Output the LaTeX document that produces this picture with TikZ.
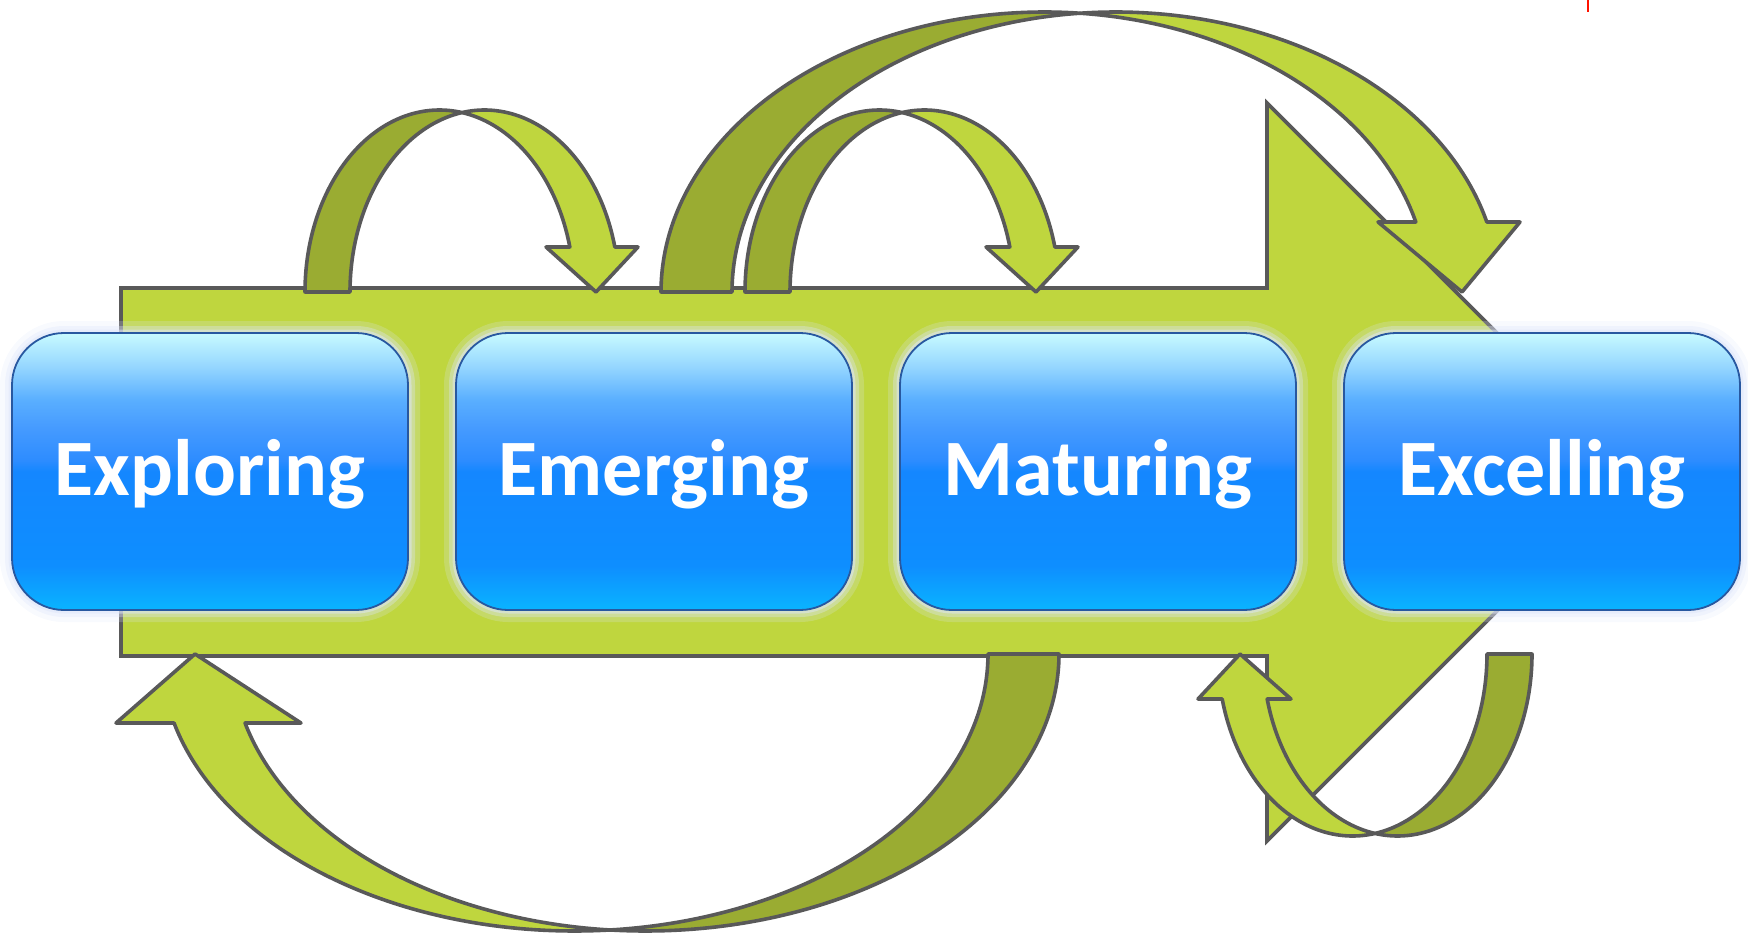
\documentclass[tikz,border=0pt]{standalone}
\usepackage{fontspec}
\setmainfont{Carlito}
\definecolor{lgreen}{RGB}{191,214,62}
\definecolor{dgreen}{RGB}{154,172,50}
\definecolor{edgec}{RGB}{89,89,89}
\definecolor{boxedge}{RGB}{40,88,160}
\definecolor{glowc}{RGB}{222,230,250}
\definecolor{bcA}{RGB}{200,250,255}
\definecolor{bcB}{RGB}{150,215,255}
\definecolor{bcC}{RGB}{90,175,255}
\definecolor{bcD}{RGB}{70,155,255}
\definecolor{bcE}{RGB}{45,140,255}
\definecolor{bcF}{RGB}{20,135,255}
\definecolor{bcG}{RGB}{14,142,255}
\definecolor{bcH}{RGB}{10,180,255}
\pgfdeclareverticalshading{boxshade}{100bp}{color(0bp)=(bcH); color(25bp)=(bcH); color(33bp)=(bcG); color(50bp)=(bcF); color(52bp)=(bcE); color(58bp)=(bcD); color(63bp)=(bcC); color(69bp)=(bcB); color(75bp)=(bcA); color(100bp)=(bcA)}
% curved ribbon arrow: #1 cx, #2 base y, #3 R, #4 H, #5 thickness, #6 head level y,
% #7 inner barb x, #8 outer barb x, #9 tip x
\newcommand\curvarr[9]{%
  \pgfmathsetmacro\cvS{sign(#2-#6)}%
  \pgfmathsetmacro\cvA{acos(#5/(2*#3))}%
  \pgfmathsetmacro\cvAb{180-\cvA}%
  \pgfmathsetmacro\cvB{asin(abs(#2-#6)/#4)}%
  \filldraw[bandback] plot[domain=180:\cvA,samples=90] ({#1+\cvS*#3*cos(\x)},{#2-\cvS*#4*sin(\x)})
     -- plot[domain=\cvAb:180,samples=90] ({#1+\cvS*(#5+#3*cos(\x))},{#2-\cvS*#4*sin(\x)}) -- cycle;
  \filldraw[bandfront] plot[domain=\cvAb:\cvB,samples=90] ({#1+\cvS*(#5+#3*cos(\x))},{#2-\cvS*#4*sin(\x)})
     -- (#8,#6) -- (#9,#2) -- (#7,#6)
     -- plot[domain=\cvB:\cvA,samples=90] ({#1+\cvS*#3*cos(\x)},{#2-\cvS*#4*sin(\x)}) -- cycle;
}
\begin{document}
\begin{tikzpicture}[x=1pt,y=-1pt,
  outl/.style={draw=edgec, line width=3.6, line join=round},
  bandback/.style={outl, fill=dgreen},
  bandfront/.style={outl, fill=lgreen},
  bigarrow/.style={outl, line join=miter, fill=lgreen},
  stagebox/.style={rounded corners=52, minimum width=396, minimum height=277, inner sep=0,
    draw=boxedge, line width=1.8, shading=boxshade, shade,
    text=white, font=\fontsize{80}{90}\selectfont\bfseries, text height=60, text depth=13,
    preaction={draw=glowc, line width=24, draw opacity=0.22},
    preaction={draw=glowc, line width=14, draw opacity=0.35},
    preaction={draw=glowc, line width=7, draw opacity=0.5}}]
\useasboundingbox (0,0) rectangle (1748,934);
% big block arrow
\draw[bigarrow] (121,288) -- (1267,288) -- (1267,103) -- (1636,472) -- (1267,841)
   -- (1267,656) -- (121,656) -- cycle;
% curved arrows above
\curvarr{439.5}{292}{134.5}{182}{45}{247}{546}{638}{596}
\curvarr{879.5}{292}{134.5}{182}{45}{247}{986}{1078}{1036}
\curvarr{1044.5}{292}{383.5}{280}{71}{222}{1378}{1520}{1462}
% curved arrows below
\curvarr{645.5}{654}{413.5}{277}{71}{723}{301}{116}{195}
\curvarr{1397.5}{654}{134.5}{182}{45}{699}{1291}{1198}{1240}
% stage boxes
\node[stagebox] (b1) at (210,471.5) {Exploring};
\node[stagebox] (b2) at (654,471.5) {Emerging};
\node[stagebox] (b3) at (1098,471.5) {Maturing};
\node[stagebox] (b4) at (1542,471.5) {Excelling};
% small red mark at the top
\coordinate (r1) at (1588,0);
\coordinate (r2) at (1588,12);
\draw[red!85!orange, line width=2] (r1) -- (r2);
\end{tikzpicture}
\end{document}
